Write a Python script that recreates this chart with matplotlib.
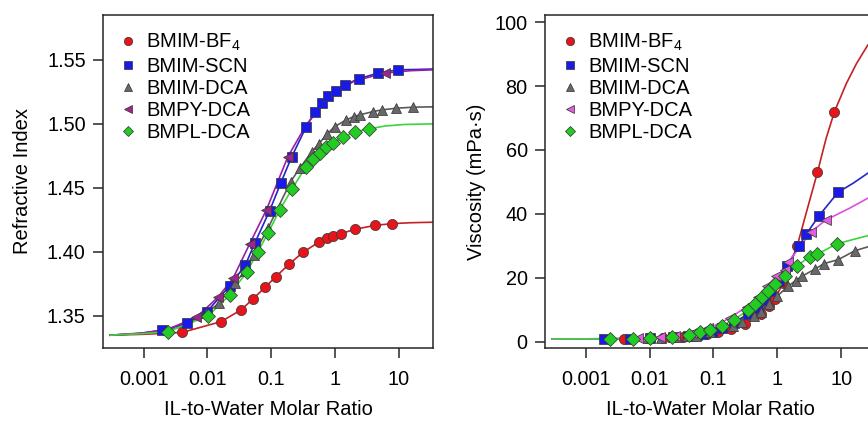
import matplotlib
matplotlib.use('Agg')
import matplotlib.pyplot as plt

plt.rcParams['font.family'] = ['Liberation Sans', 'DejaVu Sans']
plt.rcParams['mathtext.fontset'] = 'custom'
plt.rcParams['mathtext.rm'] = 'Liberation Sans'
plt.rcParams['mathtext.it'] = 'Liberation Sans'

# ---- data: refractive index (left panel) ----
bf4_x = [0.00404, 0.0163, 0.0335, 0.0516, 0.0796, 0.118, 0.189, 0.313, 0.552, 0.736, 0.925, 1.23, 2.05, 4.26, 7.87]
bf4_n = [1.3372, 1.3456, 1.3547, 1.3633, 1.3724, 1.3807, 1.3904, 1.3997, 1.4076, 1.4107, 1.4128, 1.4143, 1.4177, 1.4208, 1.4221]

scn_x = [0.00194, 0.00483, 0.00982, 0.0222, 0.0392, 0.0555, 0.0942, 0.140, 0.208, 0.353, 0.483, 0.622, 0.782, 1.02, 1.44, 2.33, 4.69, 9.64]
scn_n = [1.3387, 1.3443, 1.3534, 1.3734, 1.3898, 1.4073, 1.4323, 1.4536, 1.4742, 1.4979, 1.5089, 1.5159, 1.5216, 1.5255, 1.5305, 1.5352, 1.5396, 1.5422]

dca_x = [0.00959, 0.0150, 0.0273, 0.0392, 0.0528, 0.0887, 0.201, 0.278, 0.434, 0.552, 0.753, 0.982, 1.50, 1.95, 2.42, 3.92, 5.42, 8.97, 16.4]
dca_n = [1.3521, 1.3599, 1.3760, 1.3854, 1.3977, 1.4185, 1.4549, 1.4654, 1.4784, 1.4844, 1.4922, 1.4979, 1.5031, 1.5057, 1.5070, 1.5096, 1.5109, 1.5122, 1.5130]

bmpy_x = [0.00668, 0.0146, 0.0251, 0.0458, 0.0836, 0.182, 5.96]
bmpy_n = [1.3490, 1.3646, 1.3794, 1.4063, 1.4328, 1.4745, 1.5396]

bmpl_x = [0.00240, 0.0102, 0.0222, 0.0416, 0.0618, 0.0897, 0.135, 0.213, 0.349, 0.450, 0.571, 0.728, 0.925, 1.34, 2.07, 3.43]
bmpl_n = [1.3378, 1.3500, 1.3664, 1.3846, 1.4003, 1.4151, 1.4328, 1.4495, 1.4667, 1.4724, 1.4776, 1.4820, 1.4852, 1.4896, 1.4938, 1.4961]

# fit curves (left panel)
bf4_fit_x = [0.0003, 0.001, 0.002] + bf4_x + [15, 34]
bf4_fit_n = [1.3350, 1.3357, 1.3364] + bf4_n + [1.4228, 1.4232]
scn_fit_x = [0.0003, 0.0008] + scn_x + [20, 34]
scn_fit_n = [1.3350, 1.3362] + scn_n + [1.5425, 1.5428]
dca_fit_x = [0.0003, 0.001, 0.003, 0.0055] + dca_x + [34]
dca_fit_n = [1.3350, 1.3365, 1.3400, 1.3445] + dca_n + [1.5133]
bmpy_fit_x = [0.0003, 0.001, 0.0025, 0.00668, 0.0146, 0.0251, 0.0458, 0.0836, 0.182, 0.35, 0.6, 1.0, 2.0, 5.96, 15, 34]
bmpy_fit_n = [1.3350, 1.3368, 1.3400, 1.3490, 1.3646, 1.3794, 1.4063, 1.4328, 1.4745, 1.4990, 1.5140, 1.5240, 1.5335, 1.5396, 1.5415, 1.5422]
bmpl_fit_x = [0.0003, 0.001] + bmpl_x + [6, 12, 34]
bmpl_fit_n = [1.3350, 1.3363] + bmpl_n + [1.4983, 1.4995, 1.5000]

# ---- data: viscosity (right panel) ----
bf4_v = [1.0, 1.2, 1.5, 1.9, 2.4, 3.0, 3.9, 5.6, 8.8, 11.2, 13.5, 18.5, 30.0, 53.0, 72.0]

scn_vx = [0.00196, 0.00494, 0.0102, 0.0234, 0.040, 0.056, 0.069, 0.095, 0.134, 0.21, 0.35, 0.50, 0.64, 0.81, 1.06, 1.40, 2.20, 2.87, 4.53, 8.98]
scn_v = [1.0, 1.0, 1.2, 1.6, 2.0, 2.3, 2.6, 3.2, 4.2, 6.0, 8.8, 10.7, 13.2, 15.8, 19.1, 23.6, 30.0, 33.8, 39.5, 46.8]

dca_v = [1.2, 1.3, 1.5, 1.7, 2.0, 3.0, 5.0, 6.2, 8.2, 9.5, 11.8, 14.2, 17.5, 19.2, 20.5, 22.8, 24.5, 25.7, 28.5]

bmpy_vx = [0.0066, 0.0146, 0.0251, 0.0458, 0.0836, 0.182, 0.33, 0.50, 0.68, 0.97, 1.31, 1.50, 3.43, 5.75]
bmpy_v = [1.1, 1.4, 1.9, 2.9, 4.2, 7.5, 11.0, 14.0, 17.4, 20.5, 22.5, 25.0, 34.5, 38.1]

bmpl_vx = [0.0024, 0.0055, 0.0102, 0.0222, 0.0416, 0.0618, 0.0897, 0.135, 0.213, 0.349, 0.45, 0.571, 0.728, 0.925, 1.34, 2.05, 3.24, 4.22, 8.65]
bmpl_v = [1.0, 1.0, 1.2, 1.6, 2.3, 3.0, 3.8, 5.0, 7.0, 10.0, 12.0, 14.0, 16.0, 18.0, 20.7, 23.8, 26.7, 27.4, 30.7]

# fit curves (right panel)
bf4_vfit_x = [0.0003, 0.002] + bf4_x[:13] + [2.95, 4.26, 5.8, 7.87, 12.1, 17.4, 26, 34]
bf4_vfit_v = [0.9, 0.95] + bf4_v[:13] + [41.5, 53.0, 63.5, 72.0, 80.8, 87.0, 92.7, 95.0]
scn_vfit_x = [0.0003] + scn_vx + [15.4, 26, 34]
scn_vfit_v = [0.9] + scn_v + [49.6, 52.7, 54.0]
dca_vfit_x = [0.0003, 0.003] + dca_x + [26, 34]
dca_vfit_v = [0.9, 1.0] + dca_v + [29.7, 30.3]
bmpy_vfit_x = [0.0003, 0.003] + bmpy_vx + [13.6, 26, 34]
bmpy_vfit_v = [0.9, 1.0] + bmpy_v + [41.8, 44.9, 46.0]
bmpl_vfit_x = [0.0003] + bmpl_vx + [26, 34]
bmpl_vfit_v = [0.9] + bmpl_v + [33.2, 33.5]

labels = ['BMIM-BF$_4$', 'BMIM-SCN', 'BMIM-DCA', 'BMPY-DCA', 'BMPL-DCA']
xticks = [0.001, 0.01, 0.1, 1, 10]
xtick_labels = ['0.001', '0.01', '0.1', '1', '10']

red, red_line = '#e8141c', '#c42026'
blue, blue_line = '#1a1ae8', '#2424cc'
gray, gray_line = '#686868', '#5a5a5a'
purple, purple_line = '#a0248c', '#9a1ea6'
pink, pink_line = '#e45ce4', '#dc50dc'
green, green_line = '#22cc22', '#3cd43c'
edge = '#3a3a3a'


def style_axes(ax):
    ax.set_xscale('log')
    ax.set_xlim(10 ** -3.636, 10 ** 1.53)
    ax.set_xticks(xticks)
    ax.set_xticklabels(xtick_labels)
    ax.minorticks_off()
    for s in ax.spines.values():
        s.set_color('#262626')
        s.set_linewidth(1.1)
    ax.tick_params(direction='out', length=7.5, width=1.1, color='#262626',
                   labelsize=14.3, pad=5)
    ax.tick_params(axis='x', pad=8)
    ax.set_xlabel('IL-to-Water Molar Ratio', fontsize=14.5, labelpad=8.5)


def draw(ax, series):
    for fx, fy, lc, _, _, _, _ in series:
        ax.plot(fx, fy, color=lc, lw=1.2, zorder=2)
    handles = []
    for _, _, lc, mx, my, mk, mc in series:
        ms = {'o': 7.3, 's': 7.3, '^': 7.8, '<': 7.8, 'D': 6.8}[mk]
        h, = ax.plot(mx, my, ls='none', marker=mk, ms=ms, mfc=mc,
                     mec=edge, mew=0.55, zorder=3)
        handles.append(h)
    ax.legend(handles, labels, loc='upper left', frameon=False,
              fontsize=14.5, handlelength=0.8, handletextpad=0.5,
              borderpad=0, borderaxespad=0.85, labelspacing=0.16,
              markerscale=0.82)


fig = plt.figure(figsize=(8.68, 4.21), dpi=100)
ax1 = fig.add_axes([0.1187, 0.1734, 0.380, 0.791])
ax2 = fig.add_axes([0.628, 0.1734, 0.380, 0.791])

left_series = [
    (bf4_fit_x, bf4_fit_n, red_line, bf4_x, bf4_n, 'o', red),
    (scn_fit_x, scn_fit_n, blue_line, scn_x, scn_n, 's', blue),
    (dca_fit_x, dca_fit_n, gray_line, dca_x, dca_n, '^', gray),
    (bmpy_fit_x, bmpy_fit_n, purple_line, bmpy_x, bmpy_n, '<', purple),
    (bmpl_fit_x, bmpl_fit_n, green_line, bmpl_x, bmpl_n, 'D', green),
]
draw(ax1, left_series)
style_axes(ax1)
ax1.set_ylim(1.325, 1.585)
ax1.set_yticks([1.35, 1.40, 1.45, 1.50, 1.55])
ax1.set_yticklabels(['1.35', '1.40', '1.45', '1.50', '1.55'])
ax1.set_ylabel('Refractive Index', fontsize=14.5)
ax1.yaxis.set_label_coords(-0.215, 0.5)

right_series = [
    (bf4_vfit_x, bf4_vfit_v, red_line, bf4_x, bf4_v, 'o', red),
    (scn_vfit_x, scn_vfit_v, blue_line, scn_vx, scn_v, 's', blue),
    (dca_vfit_x, dca_vfit_v, gray_line, dca_x, dca_v, '^', gray),
    (bmpy_vfit_x, bmpy_vfit_v, pink_line, bmpy_vx, bmpy_v, '<', pink),
    (bmpl_vfit_x, bmpl_vfit_v, green_line, bmpl_vx, bmpl_v, 'D', green),
]
draw(ax2, right_series)
style_axes(ax2)
ax2.set_ylim(-1.9, 102.2)
ax2.set_yticks([0, 20, 40, 60, 80, 100])
ax2.set_ylabel('Viscosity (mPa\u00b7s)', fontsize=14.5)
ax2.yaxis.set_label_coords(-0.18, 0.5)

fig.savefig('out.png', dpi=100)
